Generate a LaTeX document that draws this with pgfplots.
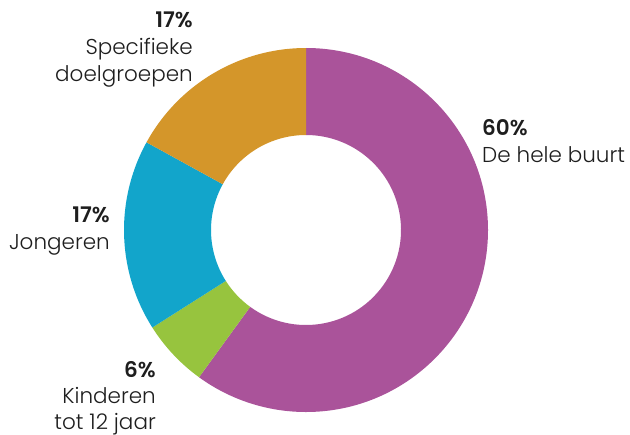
\documentclass[border=0pt]{standalone}
\usepackage{pgfplots}
\usepackage{pgfplotstable}
\pgfplotsset{compat=1.18}
\usepackage{fontspec}
\setmainfont{Poppins}[UprightFont={Poppins Light},BoldFont={Poppins SemiBold}]
\definecolor{cPurple}{HTML}{AA539A}
\definecolor{cGreen}{HTML}{97C43E}
\definecolor{cBlue}{HTML}{12A5CB}
\definecolor{cOrange}{HTML}{D4962A}
\definecolor{cText}{HTML}{1E1E1E}
\pgfplotstableread{
value color
60 cPurple
6 cGreen
17 cBlue
17 cOrange
}\donut
\begin{document}
\begin{tikzpicture}
\begin{axis}[width=630bp,height=432bp,scale only axis,
  xmin=0,xmax=630,ymin=0,ymax=432,hide axis,clip=false]
\path (axis cs:0,0) rectangle (axis cs:630,432);
\def\cum{0}
\pgfplotsforeachungrouped \i in {0,...,3}{%
  \pgfplotstablegetelem{\i}{value}\of\donut \let\v\pgfplotsretval
  \pgfplotstablegetelem{\i}{color}\of\donut \let\c\pgfplotsretval
  \pgfmathsetmacro\aA{90-3.6*\cum}%
  \pgfmathsetmacro\aB{90-3.6*(\cum+\v)}%
  \pgfmathsetmacro\cum{\cum+\v}%
  \edef\temp{\noexpand\fill[\c] (axis cs:306,202) ++(\aA:182bp) arc[start angle=\aA,end angle=\aB,radius=182bp] -- ++(\aB:-87bp) arc[start angle=\aB,end angle=\aA,radius=95bp] -- cycle;}%
  \temp
}
\tikzset{lab/.style={font=\fontsize{21.5bp}{27bp}\selectfont,text=cText,inner sep=0pt}}
% top-left
\node[lab,anchor=base east] at (axis cs:193,404) {\bfseries 17\%};
\node[lab,anchor=base east] at (axis cs:193,377) {Specifieke};
\node[lab,anchor=base east] at (axis cs:193,350) {doelgroepen};
% right
\node[lab,anchor=base west] at (axis cs:482,297) {\bfseries 60\%};
\node[lab,anchor=base west] at (axis cs:482,270) {De hele buurt};
% left
\node[lab,anchor=base east] at (axis cs:110,210) {\bfseries 17\%};
\node[lab,anchor=base east] at (axis cs:110,183) {Jongeren};
% bottom-left
\node[lab,anchor=base east] at (axis cs:156,55) {\bfseries 6\%};
\node[lab,anchor=base east] at (axis cs:156,29) {Kinderen};
\node[lab,anchor=base east] at (axis cs:156,3) {tot 12 jaar};
\end{axis}
\end{tikzpicture}
\end{document}
